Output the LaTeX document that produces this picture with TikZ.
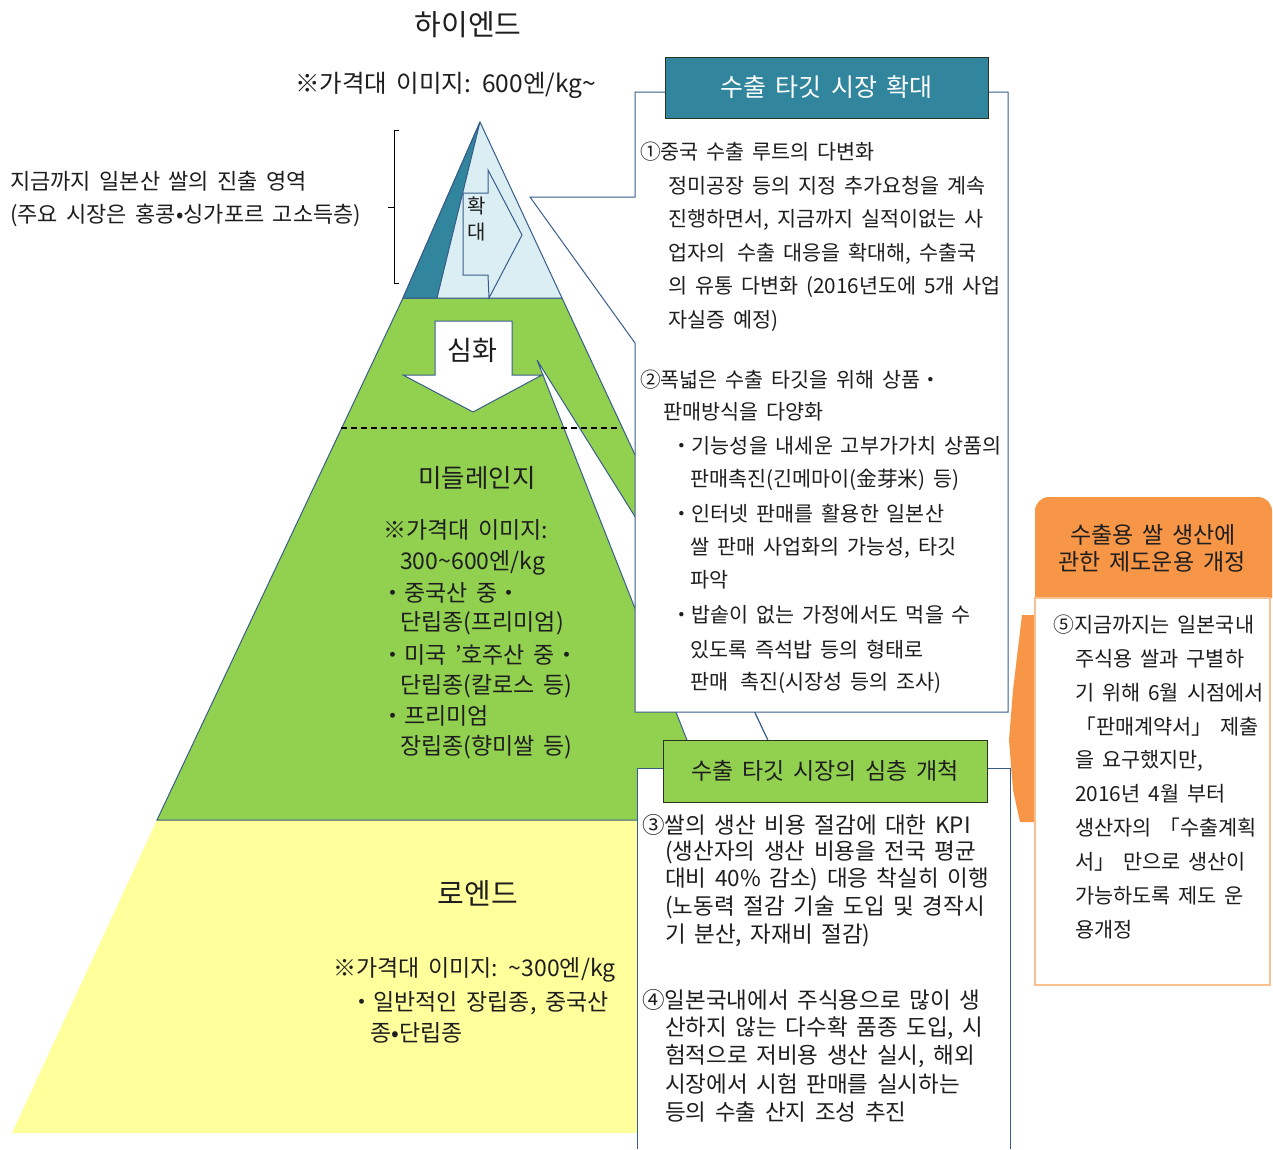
\documentclass[tikz,border=0pt]{standalone}
\usepackage{fontspec}
\setmainfont{Noto Sans CJK KR}[WordSpace=1.7]
\definecolor{cOut}{HTML}{385D8A}
\definecolor{cTeal}{HTML}{31859C}
\definecolor{cLBlue}{HTML}{DBEEF4}
\definecolor{cGreen}{HTML}{92D050}
\definecolor{cYellow}{HTML}{FFFF9C}
\definecolor{cOrange}{HTML}{F79646}
\definecolor{cOrLight}{HTML}{FAC090}
\definecolor{cDark}{HTML}{2A3320}
\definecolor{cText}{HTML}{1E1E1E}
\newcommand\fsz[1]{\fontsize{#1}{#1}\selectfont}
\tikzset{
  txt/.style={inner sep=0pt, anchor=west, text=cText, font=\fsz{20}},
  ctxt/.style={inner sep=0pt, anchor=center, text=cText},
  shp/.style={draw=cOut, line width=1pt},
}
\begin{document}
\begin{tikzpicture}[x=1pt,y=-1pt]
\useasboundingbox (0,0) rectangle (1273,1149);
\fill[white] (0,0) rectangle (1273,1149);

% pyramid layers
\fill[cYellow] (157,820) -- (637,820) -- (637,1133) -- (12,1133) -- cycle;
\filldraw[shp, fill=cGreen] (403,298) -- (562,298) -- (805,820) -- (157,820) -- cycle;
% pointer of the lower box
\filldraw[shp, fill=white] (537,360) -- (746,694) -- (781,768) -- (698,768) -- cycle;
% high end triangle
\filldraw[shp, fill=cLBlue] (480,122) -- (562,298) -- (403,298) -- cycle;
\filldraw[shp, fill=cTeal] (480,122) -- (437,298) -- (403,298) -- cycle;
% expand arrow
\filldraw[shp, fill=cLBlue] (463,193) -- (488,193) -- (488,170) -- (522,235) -- (489,298) -- (488,275) -- (463,275) -- cycle;
\node[ctxt, font=\fsz{20}] (hwak) at (477,206) {확};
\node[ctxt, font=\fsz{20}] (dae) at (477,232) {대};
% deepen arrow
\filldraw[shp, fill=white] (435,321) -- (512,321) -- (512,375) -- (542,375) -- (473,412) -- (403,375) -- (435,375) -- cycle;
\node[ctxt, font=\fsz{27}] (simhwa) at (472,350) {심화};
% dashed divider
\draw[black, line width=1.2pt, dash pattern=on 6pt off 4pt] (341,428) -- (621,428);

% bracket
\draw[black, line width=1pt] (399,130) -- (394,130) -- (394,283) -- (399,283) (394,207) -- (388,207);

% titles and left texts
\node[ctxt, font=\fsz{29}] (hiend) at (468,25) {하이엔드};
\node[txt, font=\fsz{24.5}] (hiprice) at (295,85) {※가격대 이미지: 600엔/kg\textasciitilde};
\node[txt, font=\fsz{22}] (left1) at (10,181) {지금까지 일본산 쌀의 진출 영역};
\node[txt, font=\fsz{22}] (left2) at (10,215) {(주요 시장은 홍콩•싱가포르 고소득층)};

% middle range
\node[ctxt, font=\fsz{25.5}] (midt) at (477,478) {미들레인지};
\node[txt, font=\fsz{23}] (m1) at (383,530) {※가격대 이미지:};
\node[txt, font=\fsz{23}] (m2) at (400,563) {300\textasciitilde 600엔/kg};
\node[txt, font=\fsz{23}] (m3) at (381,593) {・중국산 중・};
\node[txt, font=\fsz{23}] (m4) at (400,623) {단립종(프리미엄)};
\node[txt, font=\fsz{23}] (m5) at (381,655) {・미국 '호주산 중・};
\node[txt, font=\fsz{23}] (m6) at (400,686) {단립종(칼로스 등)};
\node[txt, font=\fsz{23}] (m7) at (381,716) {・프리미엄};
\node[txt, font=\fsz{23}] (m8) at (400,747) {장립종(향미쌀 등)};

% low end
\node[ctxt, font=\fsz{29}] (lowt) at (478,893) {로엔드};
\node[txt, font=\fsz{23}] (l1) at (333,970) {※가격대 이미지: \textasciitilde 300엔/kg};
\node[txt, font=\fsz{23}] (l2) at (350,1003) {・일반적인 장립종, 중국산};
\node[txt, font=\fsz{23}] (l3) at (370,1033) {종•단립종};

% upper box with pointer
\filldraw[shp, fill=white] (635,92) -- (1008,92) -- (1008,712) -- (635,712) -- (635,343) -- (530,197) -- (635,197) -- cycle;
\node[draw=cDark, line width=1pt, fill=cTeal, minimum width=323pt, minimum height=61pt, inner sep=0pt, text=white, font=\fsz{25}] (h1) at (826.5,87.5) {수출 타깃 시장 확대};

\node[txt, font=\fsz{20.7}] (p1) at (640,152) {①중국 수출 루트의 다변화};
\foreach \t [count=\i] in {{정미공장 등의 지정 추가요청을 계속},{진행하면서, 지금까지 실적이없는 사},{업자의\hspace{12pt}수출 대응을 확대해, 수출국},{의 유통 다변화 (2016년도에 5개 사업},{자실증 예정)}}
  \node[txt, font=\fsz{20.7}] (p1l\i) at (668,{186+33.8*(\i-1)}) {\t};
\node[txt, font=\fsz{20.7}] (p2) at (640,380) {②폭넓은 수출 타깃을 위해 상품・};
\node[txt, font=\fsz{20.7}] (p2a) at (663,412) {판매방식을 다양화};
\node[txt, font=\fsz{20.7}] (b1) at (671,446) {・기능성을 내세운 고부가가치 상품의};
\node[txt, font=\fsz{20.7}] (b1a) at (690,480) {판매촉진(긴메마이(金芽米) 등)};
\node[txt, font=\fsz{20.7}] (b2) at (671,514) {・인터넷 판매를 활용한 일본산};
\node[txt, font=\fsz{20.7}] (b2a) at (690,548) {쌀\hspace{8pt}판매 사업화의 가능성, 타깃};
\node[txt, font=\fsz{20.7}] (b2b) at (690,580) {파악};
\node[txt, font=\fsz{20.7}] (b3) at (671,615) {・밥솥이 없는 가정에서도 먹을 수};
\node[txt, font=\fsz{20.7}] (b3a) at (690,650) {있도록 즉석밥 등의 형태로};
\node[txt, font=\fsz{20.7}] (b3b) at (690,683) {판매\hspace{12pt}촉진(시장성 등의 조사)};

% lower box
\fill[white] (637,768) rectangle (1010,1149);
\draw[cOut, line width=1pt] (637,1149) -- (637,768) -- (1010,768) -- (1010,1149);
\node[draw=cDark, line width=1pt, fill=cGreen, minimum width=324pt, minimum height=62pt, inner sep=0pt, text=cText, font=\fsz{23}] (h2) at (825,771) {수출 타깃 시장의 심층 개척};

\node[txt, font=\fsz{22.5}] (p3) at (642,825) {③쌀의 생산 비용 절감에 대한 KPI};
\foreach \t [count=\i] in {{(생산자의 생산 비용을 전국 평균},{대비 40\% 감소) 대응 착실히 이행},{(노동력 절감 기술 도입 및 경작시},{기 분산, 자재비 절감)}}
  \node[txt, font=\fsz{22.5}] (p3l\i) at (665,{852+27.7*(\i-1)}) {\t};
\node[txt, font=\fsz{22.5}] (p4) at (642,1000) {④일본국내에서 주식용으로 많이 생};
\foreach \t [count=\i] in {{산하지 않는 다수확 품종 도입, 시},{험적으로 저비용 생산 실시, 해외},{시장에서 시험 판매를 실시하는},{등의 수출 산지 조성 추진}}
  \node[txt, font=\fsz{22.5}] (p4l\i) at (665,{1028+28*(\i-1)}) {\t};

% orange box
\fill[cOrange] (1022,615) -- (1035,615) -- (1035,822) -- (1020,822) -- (1013,790) -- (1009,740) -- (1013,690) -- cycle;
\fill[cOrange] (1035,598) [rounded corners=14pt] -- (1035,497) -- (1272,497) -- (1272,560) [sharp corners] -- (1272,598) -- cycle;
\draw[cOrLight, line width=1.5pt, fill=white] (1035,598) rectangle (1270,985);
\node[ctxt, font=\fsz{23}] (o1) at (1153,535) {수출용 쌀 생산에};
\node[ctxt, font=\fsz{23}] (o2) at (1152,562) {관한 제도운용 개정};
\node[txt, font=\fsz{20.8}] (p5) at (1053,625) {⑤지금까지는 일본국내};
\foreach \t [count=\i] in {{주식용\hspace{8pt}쌀과 구별하},{기 위해 6월 시점에서},{「판매계약서」 제출},{을 요구했지만,},{2016년\hspace{8pt}4월 부터},{생산자의 「수출계획},{서」\hspace{8pt}만으로 생산이},{가능하도록 제도 운},{용개정}}
  \node[txt, font=\fsz{20.8}] (p5l\i) at (1075,{659+33.8*(\i-1)}) {\t};
\end{tikzpicture}
\end{document}
